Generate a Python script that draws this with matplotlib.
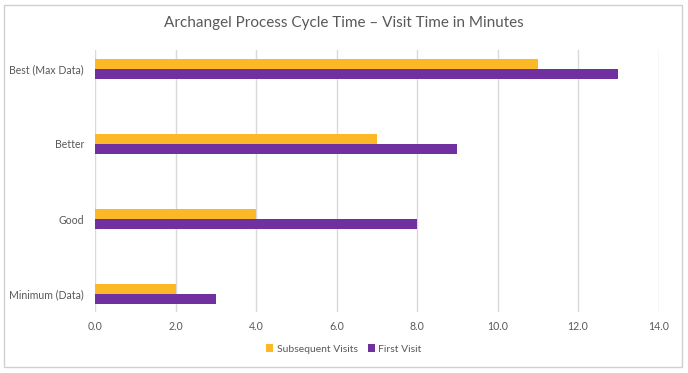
import matplotlib
matplotlib.use("Agg")
import matplotlib.pyplot as plt
from matplotlib.patches import Rectangle
import numpy as np

plt.rcParams['font.family'] = ['Lato', 'DejaVu Sans']

categories = ['Minimum (Data)', 'Good', 'Better', 'Best (Max Data)']
subsequent = [2, 4, 7, 11]
first = [3, 8, 9, 13]
xticks = [0, 2, 4, 6, 8, 10, 12, 14]

orange = '#FDB827'
purple = '#7030A0'

W, H = 688, 373
fig = plt.figure(figsize=(W / 100, H / 100), dpi=100)

# chart border
fig.patches.append(Rectangle((4 / W, 1 - 367 / H), 678 / W, 362 / H,
                             transform=fig.transFigure, fill=False,
                             edgecolor='#d0d0d0', linewidth=1))

ax = fig.add_axes([95 / W, 1 - 312 / H, (658.5 - 95) / W, (312 - 50) / H])

y = np.arange(len(categories))
h = 0.133
ax.barh(y + h / 2, subsequent, height=h, color=orange, label='Subsequent Visits')
ax.barh(y - h / 2, first, height=h, color=purple, label='First Visit')

ax.set_xlim(0, 14)
ax.set_ylim(-(312 - 294) / 75, 3 + (69 - 50) / 75)
ax.set_xticks(xticks)
ax.set_xticklabels([f'{v:.1f}' for v in xticks])
ax.set_yticks(y)
ax.set_yticklabels(categories)
ax.tick_params(axis='both', length=0, labelsize=7.6, colors='#595959')
ax.tick_params(axis='x', pad=6.5)
ax.tick_params(axis='y', pad=8)
ax.grid(axis='x', color='#d9d9d9', linewidth=1)
ax.set_axisbelow(True)
for s in ax.spines.values():
    s.set_visible(False)

fig.text(0.5, 1 - 23 / H, 'Archangel Process Cycle Time \u2013 Visit Time in Minutes',
         ha='center', va='center', fontsize=11, color='#595959')

ax.legend(loc='center', bbox_to_anchor=(0.5, 1 - 349 / H),
          bbox_transform=fig.transFigure, ncol=2, frameon=False,
          fontsize=7.5, labelcolor='#595959', handlelength=0.7,
          handleheight=0.7, handletextpad=0.3, columnspacing=1.0)

fig.savefig('out.png', dpi=100)
